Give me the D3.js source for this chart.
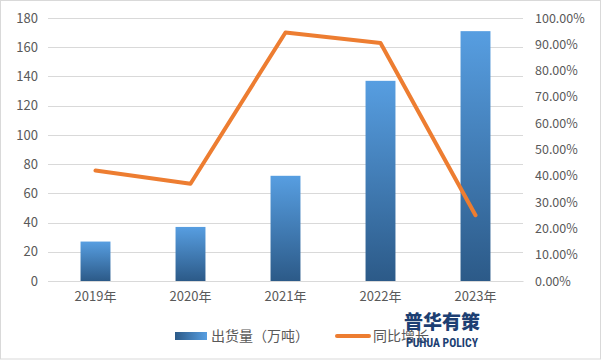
<!DOCTYPE html>
<html><head><meta charset="utf-8">
<script src="https://cdn.jsdelivr.net/npm/d3@7"></script>
<style>body{margin:0;background:#fff}svg{display:block}</style>
</head><body>
<script>
const categories = ["2019年","2020年","2021年","2022年","2023年"];
const shipments = [27, 37, 72, 137, 171];
const growth = [0.42, 0.37, 0.945, 0.905, 0.25];
const leftTicks = [0,20,40,60,80,100,120,140,160,180];
const rightTicks = [0,0.1,0.2,0.3,0.4,0.5,0.6,0.7,0.8,0.9,1.0];
const seriesNames = ["出货量（万吨）","同比增长"];

const W=601,H=361;
const svg=d3.select("body").append("svg").attr("width",W).attr("height",H);
const font="'Noto Sans CJK SC','Noto Sans',sans-serif";
svg.append("rect").attr("x",0.5).attr("y",0.5).attr("width",W-1).attr("height",H-2.5).attr("fill","#fff").attr("stroke","#d9d9d9");

const x0=48,x1=523,yTop=18,yBot=281;
const x=d3.scaleBand().domain(categories).range([x0,x1]).paddingInner(0.685).paddingOuter(0.3425);
const yL=d3.scaleLinear().domain([0,180]).range([yBot,yTop]);
const yR=d3.scaleLinear().domain([0,1]).range([yBot,yTop]);

const defs=svg.append("defs");
const g=defs.append("linearGradient").attr("id","bg").attr("x1",0).attr("y1",0).attr("x2",0).attr("y2",1);
g.append("stop").attr("offset","0%").attr("stop-color","#579ee1");
g.append("stop").attr("offset","100%").attr("stop-color","#2c5a88");
const lg=defs.append("linearGradient").attr("id","lg").attr("x1",0).attr("y1",0).attr("x2",1).attr("y2",0);
lg.append("stop").attr("offset","0%").attr("stop-color","#2c5a88");
lg.append("stop").attr("offset","100%").attr("stop-color","#579ee1");

// gridlines
svg.append("g").selectAll("line").data(leftTicks).join("line")
  .attr("x1",x0).attr("x2",x1).attr("y1",d=>Math.round(yL(d))+0.5).attr("y2",d=>Math.round(yL(d))+0.5)
  .attr("stroke","#d9d9d9").attr("stroke-width",1);

// left axis
const la=svg.append("g").attr("transform",`translate(${x0-6},0)`)
  .call(d3.axisLeft(yL).tickValues(leftTicks).tickSize(0).tickPadding(4));
la.select(".domain").remove();
la.selectAll("text").attr("font-family",font).attr("font-size",13).attr("fill","#595959");

// right axis
const ra=svg.append("g").attr("transform",`translate(${x1+8},0)`)
  .call(d3.axisRight(yR).tickValues(rightTicks).tickSize(0).tickPadding(4).tickFormat(d3.format(".2%")));
ra.select(".domain").remove();
ra.selectAll("text").attr("font-family",font).attr("font-size",12.5).attr("fill","#595959");

// bars
svg.append("g").selectAll("rect").data(shipments).join("rect")
  .attr("x",(d,i)=>x(categories[i])).attr("width",x.bandwidth())
  .attr("y",d=>yL(d)).attr("height",d=>yBot-yL(d)).attr("fill","url(#bg)");

// x axis
const xa=svg.append("g").attr("transform",`translate(0,${yBot})`)
  .call(d3.axisBottom(x).tickSize(0).tickPadding(11));
xa.select(".domain").attr("stroke","#d9d9d9");
xa.selectAll("text").attr("font-family",font).attr("font-size",13).attr("fill","#595959");

// line
const line=d3.line().x((d,i)=>x(categories[i])+x.bandwidth()/2).y(d=>yR(d));
svg.append("path").datum(growth).attr("d",line).attr("fill","none")
  .attr("stroke","#ed7d31").attr("stroke-width",4).attr("stroke-linejoin","round").attr("stroke-linecap","round");

// legend
const leg=svg.append("g");
leg.append("rect").attr("x",175).attr("y",332).attr("width",32).attr("height",8).attr("fill","url(#lg)");
leg.append("text").attr("x",211).attr("y",341).text(seriesNames[0])
  .attr("font-family",font).attr("font-size",14).attr("fill","#595959");
leg.append("line").attr("x1",337).attr("x2",369).attr("y1",336).attr("y2",336)
  .attr("stroke","#ed7d31").attr("stroke-width",4).attr("stroke-linecap","round");
leg.append("text").attr("x",373).attr("y",341).text(seriesNames[1])
  .attr("font-family",font).attr("font-size",14).attr("fill","#595959");

// watermark
const wm=svg.append("g");
wm.append("text").attr("x",442).attr("y",329).attr("text-anchor","middle").text("普华有策")
  .attr("font-family",font).attr("font-weight",900).attr("font-size",19).attr("fill","#1d3f73");
wm.append("text").attr("x",442).attr("y",347).attr("text-anchor","middle").text("PUHUA POLICY")
  .attr("font-family","'Roboto Condensed','Roboto',sans-serif").attr("font-weight",700).attr("font-size",13).attr("fill","#1d3f73")
  .attr("textLength",72).attr("lengthAdjust","spacingAndGlyphs");
</script>
</body></html>
